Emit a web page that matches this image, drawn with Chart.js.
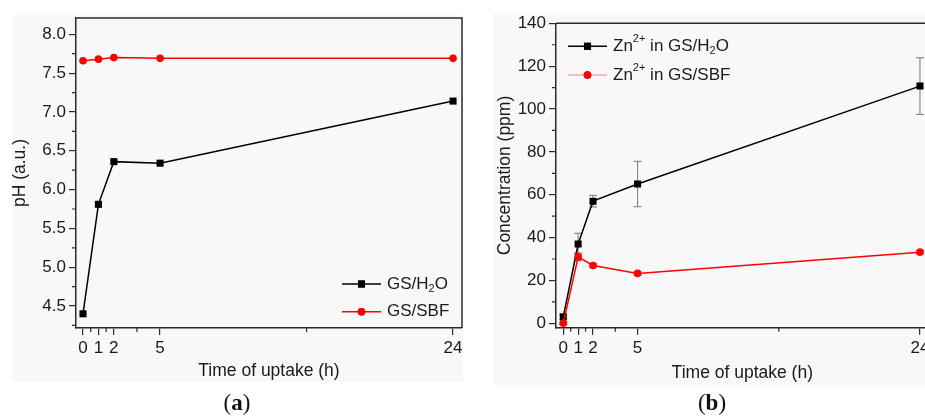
<!DOCTYPE html>
<html>
<head>
<meta charset="utf-8">
<script src="https://cdn.jsdelivr.net/npm/chart.js@4/dist/chart.umd.min.js"></script>
<style>
	html, body { margin: 0; padding: 0; background: #fff; width: 925px; height: 418px; overflow: hidden; }
	.panel-bg { position: absolute; background: #f8f8f8; }
	.wrap { position: absolute; top: 0; width: 470px; height: 418px; }
	.caption { position: absolute; top: 390px; width: 60px; margin-left: -30px; text-align: center;
		font-family: 'Liberation Serif', 'DejaVu Serif', serif; font-size: 23px; color: #111; }
</style>
</head>
<body>
<div class="panel-bg" style="left:12px;top:15px;width:451px;height:367px"></div>
<div class="panel-bg" style="left:493px;top:13px;width:432px;height:372px"></div>
<div class="wrap" style="left:0"><canvas id="chartA" width="470" height="418"></canvas></div>
<div class="wrap" style="left:470px"><canvas id="chartB" width="470" height="418"></canvas></div>
<div class="caption" style="left:237px">(<b>a</b>)</div>
<div class="caption" style="left:712px">(<b>b</b>)</div>
<script>
	'use strict';

	// data
	const times = [0, 1, 2, 5, 24];
	const xTickLabels = [0, 1, 2, 5, 24];
	const xMinorTicks = [0.5, 1.5, 3.5, 14.5];

	const phH2O = [4.40, 5.81, 6.36, 6.34, 7.14];
	const phSBF = [7.66, 7.68, 7.70, 7.69, 7.69];
	const phTicks = [4.5, 5.0, 5.5, 6.0, 6.5, 7.0, 7.5, 8.0];
	const phMinorTicks = [4.25, 4.75, 5.25, 5.75, 6.25, 6.75, 7.25, 7.75];

	const znH2O = [3, 37, 57, 65, 110.7];
	const znH2OErr = [1, 5, 2.7, 10.6, 13.2];
	const znSBF = [0, 31, 27, 23.3, 33.2];
	const znSBFErr = [0.5, 1.8, 0.8, 0.8, 0.8];
	const znTicks = [0, 20, 40, 60, 80, 100, 120, 140];
	const znMinorTicks = [10, 30, 50, 70, 90, 110, 130];

	const FONT = "Arial, 'Liberation Sans', sans-serif";
	const TEXT = '#1a1a1a';
	const AXIS = '#2a2a2a';

	function points(ys) {
		return times.map((t, i) => ({ x: t, y: ys[i] }));
	}

	// frame + minor ticks
	const framePlugin = {
		id: 'frame',
		afterDraw(chart, args, opts) {
			const { ctx, chartArea: a, scales } = chart;
			ctx.save();
			ctx.strokeStyle = AXIS;
			ctx.lineWidth = 1.5;
			ctx.beginPath();
			ctx.moveTo(a.left, a.top);
			ctx.lineTo(a.right, a.top);
			ctx.lineTo(a.right, a.bottom);
			ctx.stroke();
			ctx.lineWidth = 1.2;
			ctx.beginPath();
			opts.xMinor.forEach(v => {
				const px = scales.x.getPixelForValue(v);
				ctx.moveTo(px, a.bottom);
				ctx.lineTo(px, a.bottom + 4);
			});
			opts.yMinor.forEach(v => {
				const py = scales.y.getPixelForValue(v);
				ctx.moveTo(a.left, py);
				ctx.lineTo(a.left - 4, py);
			});
			ctx.stroke();
			ctx.restore();
		}
	};

	// error bars from the named arrays
	const errorBarPlugin = {
		id: 'errorBars',
		beforeDatasetsDraw(chart) {
			const { ctx, scales } = chart;
			ctx.save();
			chart.data.datasets.forEach(ds => {
				if (!ds.errors) return;
				ctx.strokeStyle = ds.errorColor;
				ctx.lineWidth = 1;
				ds.data.forEach((p, i) => {
					const x = scales.x.getPixelForValue(p.x);
					const yTop = scales.y.getPixelForValue(p.y + ds.errors[i]);
					const yBot = scales.y.getPixelForValue(p.y - ds.errors[i]);
					ctx.beginPath();
					ctx.moveTo(x, yTop);
					ctx.lineTo(x, yBot);
					ctx.moveTo(x - 4, yTop);
					ctx.lineTo(x + 4, yTop);
					ctx.moveTo(x - 4, yBot);
					ctx.lineTo(x + 4, yBot);
					ctx.stroke();
				});
			});
			ctx.restore();
		}
	};

	// legend with sub/superscripts
	function drawRich(ctx, parts, x, y) {
		parts.forEach(p => {
			const size = p.sub || p.sup ? 11 : 17;
			const dy = p.sub ? 5 : (p.sup ? -7 : 0);
			ctx.font = size + 'px ' + FONT;
			ctx.fillText(p.t, x, y + dy);
			x += ctx.measureText(p.t).width;
		});
	}

	const legendPlugin = {
		id: 'richLegend',
		afterDraw(chart, args, opts) {
			const { ctx, chartArea: a } = chart;
			const x0 = opts.anchor === 'right' ? a.right - 120 : a.left + 12;
			const y0 = opts.anchor === 'right' ? a.bottom - 44 : a.top + 23;
			ctx.save();
			ctx.textBaseline = 'middle';
			chart.data.datasets.forEach((ds, i) => {
				const y = y0 + i * opts.rowGap;
				ctx.strokeStyle = ds.legendLine || ds.borderColor;
				ctx.lineWidth = 1.5;
				ctx.beginPath();
				ctx.moveTo(x0, y);
				ctx.lineTo(x0 + 39, y);
				ctx.stroke();
				Chart.helpers.drawPoint(ctx, {
					pointStyle: ds.pointStyle, radius: ds.pointRadius, borderWidth: 0
				}, x0 + 19.5, y);
				ctx.fillStyle = ds.pointBackgroundColor;
				ctx.fill();
				ctx.fillStyle = TEXT;
				drawRich(ctx, ds.rich, x0 + 45, y);
			});
			ctx.restore();
		}
	};

	function xScale(min, max, height) {
		return {
			type: 'linear',
			min: min,
			max: max,
			afterBuildTicks: s => { s.ticks = xTickLabels.map(v => ({ value: v })); },
			afterFit: s => { s.height = height; },
			grid: { drawOnChartArea: false, tickLength: 7, color: AXIS, lineWidth: 1.2 },
			border: { display: true, color: AXIS, width: 1.5 },
			ticks: { color: TEXT, font: { family: FONT, size: 17 }, padding: 3, maxRotation: 0 },
			title: { display: true, text: 'Time of uptake (h)', color: TEXT, font: { family: FONT, size: 17.5 }, padding: 0 }
		};
	}

	function yScale(min, max, width, tickVals, digits, title) {
		return {
			type: 'linear',
			min: min,
			max: max,
			afterBuildTicks: s => { s.ticks = tickVals.map(v => ({ value: v })); },
			afterFit: s => { s.width = width; },
			grid: { drawOnChartArea: false, tickLength: 7, color: AXIS, lineWidth: 1.2 },
			border: { display: true, color: AXIS, width: 1.5 },
			ticks: { color: TEXT, font: { family: FONT, size: 17 }, padding: 3, callback: v => v.toFixed(digits) },
			title: { display: true, text: title, color: TEXT, font: { family: FONT, size: 17.5 }, padding: 0 }
		};
	}

	function series(label, rich, ys, color, style, radius) {
		return {
			label: label,
			rich: rich,
			data: points(ys),
			borderColor: color,
			backgroundColor: color,
			pointBackgroundColor: color,
			pointBorderWidth: 0,
			pointStyle: style,
			pointRadius: radius,
			borderWidth: 1.5,
			tension: 0
		};
	}

	const baseOptions = {
		responsive: false,
		animation: false,
		events: [],
		plugins: { legend: { display: false }, tooltip: { enabled: false } }
	};

	let ctxA = document.getElementById('chartA').getContext('2d');
	let chartA = new Chart(ctxA, {
		type: 'line',
		data: {
			datasets: [
				series('GS/H2O', [{ t: 'GS/H' }, { t: '2', sub: true }, { t: 'O' }], phH2O, '#000000', 'rect', 5),
				series('GS/SBF', [{ t: 'GS/SBF' }], phSBF, '#ff0000', 'circle', 3.8)
			]
		},
		options: Object.assign({}, baseOptions, {
			layout: { padding: { left: 10, top: 18, right: 8, bottom: 36 } },
			scales: {
				x: xScale(-0.454, 24.58, 54),
				y: yScale(4.217, 8.21, 66, phTicks, 1, 'pH (a.u.)')
			},
			plugins: Object.assign({}, baseOptions.plugins, {
				frame: { xMinor: xMinorTicks, yMinor: phMinorTicks },
				richLegend: { anchor: 'right', rowGap: 27.7 }
			})
		}),
		plugins: [framePlugin, legendPlugin]
	});

	let sbf = series('Zn2+ in GS/SBF', [{ t: 'Zn' }, { t: '2+', sup: true }, { t: ' in GS/SBF' }], znSBF, '#ff0000', 'circle', 3.8);
	sbf.errors = znSBFErr;
	sbf.errorColor = '#ff3030';
	sbf.legendLine = '#f7a9a9';
	sbf.order = 0;
	let h2o = series('Zn2+ in GS/H2O', [{ t: 'Zn' }, { t: '2+', sup: true }, { t: ' in GS/H' }, { t: '2', sub: true }, { t: 'O' }], znH2O, '#000000', 'rect', 5);
	h2o.errors = znH2OErr;
	h2o.errorColor = '#7a7a7a';
	h2o.order = 1;

	let ctxB = document.getElementById('chartB').getContext('2d');
	let chartB = new Chart(ctxB, {
		type: 'line',
		data: { datasets: [h2o, sbf] },
		options: Object.assign({}, baseOptions, {
			layout: { padding: { left: 25, top: 23.3, right: 11.4, bottom: 34 } },
			scales: {
				x: xScale(-0.49, 24.58, 56.3),
				y: yScale(-2.05, 140, 61, znTicks, 0, 'Concentration (ppm)')
			},
			plugins: Object.assign({}, baseOptions.plugins, {
				frame: { xMinor: xMinorTicks, yMinor: znMinorTicks },
				richLegend: { anchor: 'left', rowGap: 28.7 }
			})
		}),
		plugins: [framePlugin, errorBarPlugin, legendPlugin]
	});
</script>
</body>
</html>
